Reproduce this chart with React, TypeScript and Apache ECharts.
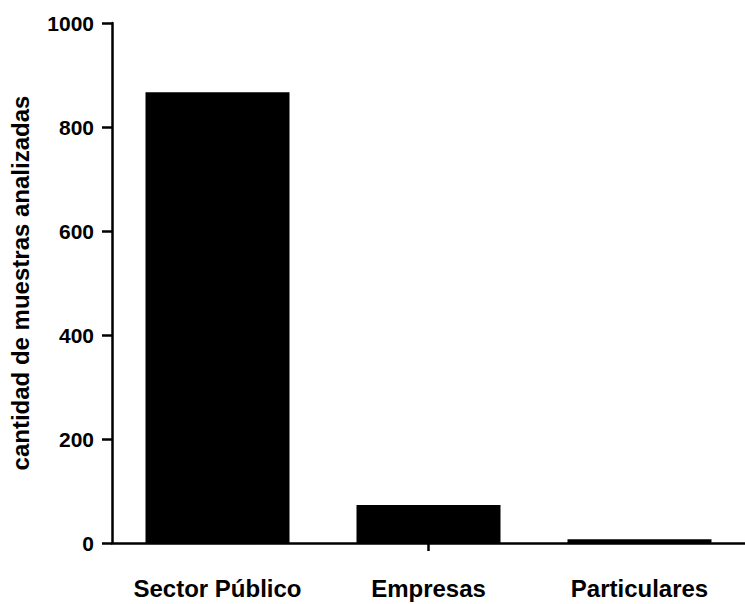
import React, { useEffect, useRef } from "react";
import * as echarts from "echarts";

const categories = ["Sector Público", "Empresas", "Particulares"];
const values = [867, 73, 7];
const yTicks = [0, 200, 400, 600, 800, 1000];
const yTitle = "cantidad de muestras analizadas";
const tickedCategories = [1];

export default function App() {
  const ref = useRef<HTMLDivElement>(null);
  useEffect(() => {
    if (!ref.current) return;
    const chart = echarts.init(ref.current, undefined, { renderer: "svg" });
    const font = "'Liberation Sans', Arial, sans-serif";
    chart.setOption({
      animation: false,
      backgroundColor: "#ffffff",
      grid: { left: 106, right: -7, top: 23, bottom: 61, containLabel: false },
      xAxis: {
        type: "category",
        data: categories,
        axisLine: { lineStyle: { color: "#000", width: 2.5 } },
        axisTick: {
          show: true,
          alignWithLabel: true,
          length: 8,
          lineStyle: { color: "#000", width: 2.5 },
          customValues: tickedCategories,
        },
        axisLabel: {
          interval: 0,
          hideOverlap: false,
          margin: 33,
          fontSize: 24,
          fontWeight: "bold",
          color: "#000",
          fontFamily: font,
        },
      },
      yAxis: {
        type: "value",
        min: yTicks[0],
        max: yTicks[yTicks.length - 1],
        interval: 200,
        name: yTitle,
        nameLocation: "middle",
        nameRotate: 90,
        nameGap: 80,
        nameTextStyle: { fontSize: 24, fontWeight: "bold", color: "#000", fontFamily: font },
        axisLine: { show: true, lineStyle: { color: "#000", width: 2.5 } },
        axisTick: { show: true, length: 10, lineStyle: { color: "#000", width: 2.5 } },
        splitLine: { show: false },
        axisLabel: {
          margin: 18,
          fontSize: 21,
          fontWeight: "bold",
          color: "#000",
          fontFamily: font,
          formatter: (v: number) => String(v),
        },
      },
      series: [
        {
          type: "bar",
          data: values,
          barWidth: 144,
          itemStyle: { color: "#000" },
        },
      ],
    });
    return () => chart.dispose();
  }, []);
  return <div ref={ref} style={{ width: 745, height: 604, position: "absolute", left: 0, top: 0 }} />;
}
